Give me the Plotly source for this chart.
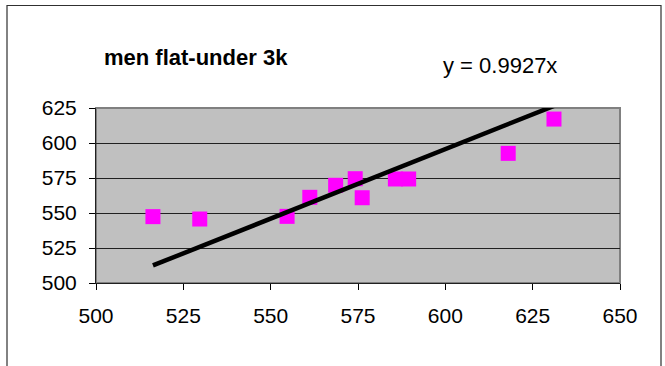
import plotly.graph_objects as go

# data
x_vals = [516.3, 529.7, 554.7, 561.2, 568.6, 574.2, 576.2, 585.7, 589.5, 618.0, 631.1]
y_vals = [547.4, 545.7, 547.6, 561.2, 569.8, 574.5, 560.9, 574.3, 574.3, 592.6, 617.1]
slope = 0.9927
title_text = "men flat-under 3k"
eq_text = "y = 0.9927x"
x_ticks = [500, 525, 550, 575, 600, 625, 650]
y_ticks = [500, 525, 550, 575, 600, 625]

line_x = [min(x_vals), max(x_vals)]
line_y = [slope * v for v in line_x]

W, H = 665, 366
L, R, T, B = 96, 45, 108, 83
pw, ph = W - L - R, H - T - B


def px(xpix):
    return (xpix - L) / pw


def py(ypix):
    return (H - B - ypix) / ph


fig = go.Figure()
fig.add_trace(go.Scatter(x=x_vals, y=y_vals, mode="markers",
                         marker=dict(symbol="square", size=15, color="#FF00FF", line=dict(width=0)),
                         showlegend=False))
fig.add_trace(go.Scatter(x=line_x, y=line_y, mode="lines",
                         line=dict(color="black", width=4.5), showlegend=False))

font = "Liberation Sans, Arial, sans-serif"
fig.update_layout(
    width=W, height=H,
    margin=dict(l=L, r=R, t=T, b=B),
    paper_bgcolor="white", plot_bgcolor="#C0C0C0",
    font=dict(family=font, size=21, color="black"),
    xaxis=dict(range=[500, 650], tickvals=x_ticks, showgrid=False, zeroline=False,
               showline=True, linecolor="#202020", linewidth=1, ticks="outside",
               ticklen=6, tickcolor="black", ticklabelstandoff=8,
               tickfont=dict(size=21, family=font)),
    yaxis=dict(range=[500, 625], tickvals=y_ticks, showgrid=True, gridcolor="#202020",
               gridwidth=1, zeroline=False, showline=True, linecolor="#202020", linewidth=1,
               ticks="outside", ticklen=6, tickcolor="black", ticklabelstandoff=8,
               tickfont=dict(size=21, family=font)),
    shapes=[
        dict(type="rect", xref="paper", yref="paper", x0=0, x1=1, y0=0, y1=1,
             line=dict(color="#808080", width=2), layer="below"),
        dict(type="rect", xref="paper", yref="paper",
             x0=px(7), x1=px(661), y0=py(385), y1=py(5.5),
             line=dict(color="#303030", width=1.2), fillcolor="rgba(0,0,0,0)"),
    ],
    annotations=[
        dict(text="<b>" + title_text + "</b>", xref="paper", yref="paper",
             x=px(102), y=py(58), xanchor="left", yanchor="middle",
             showarrow=False, font=dict(size=22, family=font)),
        dict(text=eq_text, xref="paper", yref="paper",
             x=px(441), y=py(65), xanchor="left", yanchor="middle",
             showarrow=False, font=dict(size=22, family=font)),
    ],
)

fig.write_html("out.html", config={"displayModeBar": False},
               post_script="document.body.style.margin='0';")
